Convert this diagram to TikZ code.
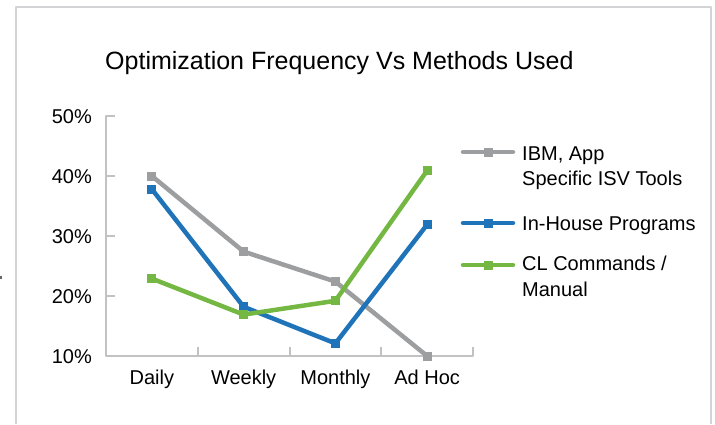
\documentclass[tikz,border=0pt]{standalone}
\usepackage{fontspec}
\setmainfont{Liberation Sans}
\definecolor{ibmgray}{HTML}{9D9EA0}
\definecolor{inblue}{HTML}{1F73B9}
\definecolor{clgreen}{HTML}{74B843}
\definecolor{axisgray}{HTML}{C2C2C4}
\definecolor{framegray}{HTML}{D4D4D6}
\begin{document}
\begin{tikzpicture}[x=1pt,y=-1pt,line join=round,
		every node/.style={font=\fontsize{20}{24}\selectfont,inner sep=0pt},
		series/.style={line width=4.5pt},
		declare function={xL = 106; xR = 473; yB = 356; dY = 6; cw = 91.75; tk = 9; xLeg = 463; xTxt = 522;}]
	\useasboundingbox (0,0) rectangle (715,424);
	%% Khung
	\draw[framegray,line width=1.5pt] (16,424) -- (16,7) -- (711,7) -- (711,424);
	\fill[black!60] (0,276) rectangle (2,279);
	%% Tiêu đề
	\node[anchor=base west,font=\fontsize{25}{29}\selectfont] (title) at (105,69) {Optimization Frequency Vs Methods Used};
	%% Trục
	\draw[axisgray,line width=2pt] (xL+tk,116) -- (xL,116) -- (xL,yB) -- (xR,yB) -- (xR,yB-tk);
	\foreach \v in {20,30,40} \draw[axisgray,line width=2pt] (xL,{yB-(\v-10)*dY}) -- ++(tk,0);
	\foreach \i in {1,2,3} \draw[axisgray,line width=2pt] ({xL+\i*cw},yB) -- ++(0,-tk);
	\foreach \v in {10,20,...,50}
		\node[anchor=base east] (y\v) at (92,{yB-(\v-10)*dY+7}) {\v\%};
	\foreach \lab [count=\i] in {Daily,Weekly,Monthly,Ad Hoc}
		\node[anchor=base] (x\i) at ({xL+(\i-0.5)*cw},384) {\lab};
	%% Dữ liệu
	\foreach \s/\col/\a/\b/\cc/\d in {g/ibmgray/40/27.4/22.4/10, b/inblue/37.8/18.2/12.1/31.9, v/clgreen/22.9/16.9/19.2/40.9}{
		\foreach \val [count=\i] in {\a,\b,\cc,\d}
			\coordinate (\s\i) at ({xL+(\i-0.5)*cw},{yB-(\val-10)*dY});
		\draw[series,\col] (\s1) -- (\s2) -- (\s3) -- (\s4);
		\foreach \i in {1,...,4} \fill[\col] (\s\i) ++(-4.5,-4.5) rectangle ++(9,9);
	}
	%% Chú thích
	\foreach \col/\yy in {ibmgray/152, inblue/223, clgreen/265}{
		\draw[series,\col,line cap=round] (xLeg,\yy) -- (xLeg+50,\yy);
		\fill[\col] (xLeg+25,\yy) ++(-4.5,-4.5) rectangle ++(9,9);
	}
	\node[anchor=base west] (l1) at (xTxt,160) {IBM, App};
	\node[anchor=base west] (l1b) at (xTxt,185) {Specific ISV Tools};
	\node[anchor=base west] (l2) at (xTxt,230) {In-House Programs};
	\node[anchor=base west] (l3) at (xTxt,270) {CL Commands /};
	\node[anchor=base west] (l3b) at (xTxt,296) {Manual};
\end{tikzpicture}
\end{document}
